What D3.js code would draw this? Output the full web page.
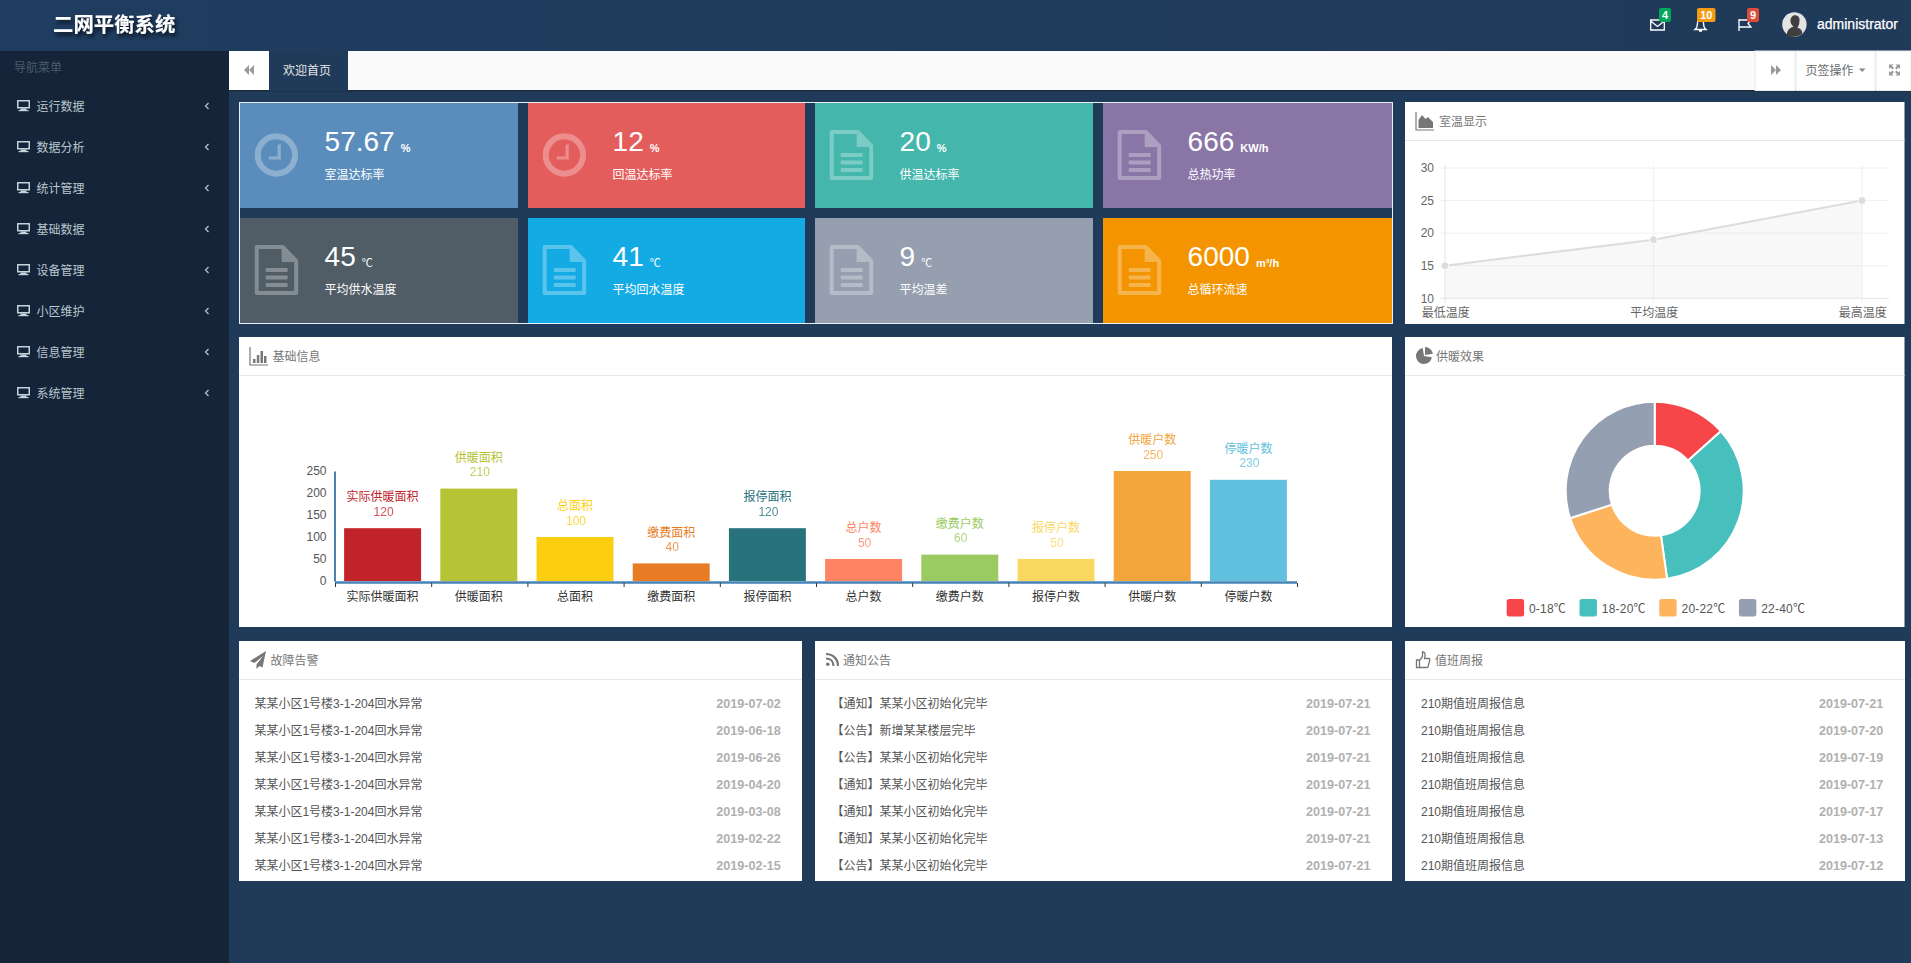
<!DOCTYPE html>
<html>
<head>
<meta charset="utf-8">
<title>二网平衡系统</title>
<script src="https://cdn.jsdelivr.net/npm/d3@7"></script>
<style>
html, body { margin: 0; padding: 0; background: #203a59; overflow: hidden; }
svg { display: block; }
text { font-family: "Liberation Sans", "Noto Sans CJK SC", sans-serif; font-size: 12px; }
</style>
</head>
<body>
<svg id="page" width="1911" height="963"></svg>
<script>
// data
var menuItems = ["运行数据", "数据分析", "统计管理", "基础数据", "设备管理", "小区维护", "信息管理", "系统管理"];

var tileValues = ["57.67", "12", "20", "666", "45", "41", "9", "6000"];
var tileUnits = ["%", "%", "%", "KW/h", "℃", "℃", "℃", "m³/h"];
var tileLabels = ["室温达标率", "回温达标率", "供温达标率", "总热功率", "平均供水温度", "平均回水温度", "平均温差", "总循环流速"];
var tileIcons = ["clock", "clock", "file", "file", "file", "file", "file", "file"];
var tileColors = ["#5a8dbc", "#e45d5d", "#44b6ac", "#8a75a7", "#505c66", "#14abe5", "#959fb0", "#f39400"];

var lineLabels = ["最低温度", "平均温度", "最高温度"];
var lineValues = [15, 19, 25];
var lineTicks = [10, 15, 20, 25, 30];

var barNames = ["实际供暖面积", "供暖面积", "总面积", "缴费面积", "报停面积", "总户数", "缴费户数", "报停户数", "供暖户数", "停暖户数"];
var barValues = [120, 210, 100, 40, 120, 50, 60, 50, 250, 230];
var barColors = ["#c1232b", "#b5c334", "#fcce10", "#e87c25", "#27727b", "#fe8463", "#9bca63", "#fad860", "#f3a43b", "#60c0dd"];

var pieLabels = ["0-18℃", "18-20℃", "20-22℃", "22-40℃"];
var pieValues = [12, 31, 20, 27];
var pieColors = ["#f7464a", "#46bfbd", "#fdb45c", "#949fb1"];

var faultTexts = d3.range(7).map(() => "某某小区1号楼3-1-204回水异常");
var faultDates = ["2019-07-02", "2019-06-18", "2019-06-26", "2019-04-20", "2019-03-08", "2019-02-22", "2019-02-15"];
var noticeTexts = ["【通知】某某小区初始化完毕", "【公告】新增某某楼层完毕", "【公告】某某小区初始化完毕", "【通知】某某小区初始化完毕", "【通知】某某小区初始化完毕", "【通知】某某小区初始化完毕", "【公告】某某小区初始化完毕"];
var noticeDates = ["2019-07-21", "2019-07-21", "2019-07-21", "2019-07-21", "2019-07-21", "2019-07-21", "2019-07-21"];
var dutyTexts = d3.range(7).map(() => "210期值班周报信息");
var dutyDates = ["2019-07-21", "2019-07-20", "2019-07-19", "2019-07-17", "2019-07-17", "2019-07-13", "2019-07-12"];

var svg = d3.select("#page");

function rect(p, x, y, w, h, fill) {
    return p.append("rect").attr("x", x).attr("y", y).attr("width", w).attr("height", h).attr("fill", fill);
}
function label(p, x, y, str, color, anchor) {
    return p.append("text").attr("x", x).attr("y", y).attr("dy", "0.42em")
        .attr("fill", color).attr("text-anchor", anchor || "start").text(str);
}
function shape(p, x, y, d, fill) {
    return p.append("path").attr("transform", `translate(${x},${y})`).attr("d", d).attr("fill", fill || "none");
}

// header, sidebar

var defs = svg.append("defs");
var shadow = defs.append("filter").attr("id", "logoShadow").attr("x", "-20%").attr("y", "-40%").attr("width", "140%").attr("height", "200%");
shadow.append("feDropShadow").attr("dx", 2).attr("dy", 3).attr("stdDeviation", 2).attr("flood-color", "#000").attr("flood-opacity", 0.75);

var headGrad = defs.append("linearGradient").attr("id", "headGrad");
headGrad.append("stop").attr("offset", "0").attr("stop-color", "#1f3d60");
headGrad.append("stop").attr("offset", "1").attr("stop-color", "#203a59");

rect(svg, 0, 0, 1911, 963, "#203a59");
rect(svg, 0, 0, 1911, 51, "url(#headGrad)");
rect(svg, 0, 51, 229, 912, "#152438");

label(svg, 53, 23.5, "二网平衡系统", "#fff")
    .style("font-size", "20.4px").style("font-weight", 700)
    .attr("filter", "url(#logoShadow)");

label(svg, 14, 67, "导航菜单", "#4b5c6c");

var menuY = d3.scalePoint().domain(menuItems).range([106, 393]);
menuItems.forEach(function (name) {
    var g = svg.append("g").attr("transform", `translate(0,${menuY(name)})`);
    shape(g, 17, -6, "M0 0H13V8.5H0Z M1.5 1.5V7H11.5V1.5Z", "#c4d3dc").attr("fill-rule", "evenodd");
    rect(g, 20.5, 2.5, 6, 1.6, "#c4d3dc");
    rect(g, 18.5, 4, 10, 1.2, "#c4d3dc");
    label(g, 36.5, 0, name, "#b8c7ce");
    g.append("path").attr("d", "M208.5 -3L205.5 0L208.5 3").attr("fill", "none")
        .attr("stroke", "#b8c7ce").attr("stroke-width", 1.2);
});

// tab bar

rect(svg, 229, 51, 1682, 39, "#fafafa");
rect(svg, 229, 90, 1682, 1.5, "#1c2a3a");
rect(svg, 229, 51, 39.5, 39, "#fff");
rect(svg, 269, 51, 79, 40, "#203a59");
label(svg, 283, 69.5, "欢迎首页", "#e6e6e6");
shape(svg, 244, 65, "M0 5L5 0V10Z M5 5L10 0V10Z", "#999");

[[1755, 40], [1796, 79], [1876, 35]].forEach(function (b) {
    rect(svg, b[0], 51, b[1], 39.5, "#fff").attr("stroke", "#e7eaec").attr("stroke-width", 1);
});
shape(svg, 1771, 65, "M0 0L5 5L0 10Z M5 0L10 5L5 10Z", "#999");
label(svg, 1805.5, 69.5, "页签操作", "#676a6c");
shape(svg, 1859, 68.5, "M0 0H6.5L3.25 3.5Z", "#888");
shape(svg, 1889, 64.5, "M0 0H4.5L3 1.5L5 3.5L3.5 5L1.5 3L0 4.5Z M11 0V4.5L9.5 3L7.5 5L6 3.5L8 1.5L6.5 0Z M0 11V6.5L1.5 8L3.5 6L5 7.5L3 9.5L4.5 11Z M11 11H6.5L8 9.5L6 7.5L7.5 6L9.5 8L11 6.5Z", "#999");

// top right icons

svg.append("path").attr("d", "M1650.7 20H1664.3V30H1650.7Z M1650.7 21L1657.5 26.5L1664.3 21")
    .attr("fill", "none").attr("stroke", "#fff").attr("stroke-width", 1.3);
svg.append("path").attr("d", "M1695 29.5C1697 28 1697.5 26 1697.5 23C1697.5 20.5 1699 19.5 1700.5 19.5C1702 19.5 1703.5 20.5 1703.5 23C1703.5 26 1704 28 1706 29.5Z M1699 31H1702")
    .attr("fill", "none").attr("stroke", "#fff").attr("stroke-width", 1.3);
svg.append("path").attr("d", "M1739 31V19 M1739 20H1751L1748 23.5L1751 27H1739")
    .attr("fill", "none").attr("stroke", "#fff").attr("stroke-width", 1.3);

[[1659, 12, "4", "#00a65a"], [1697, 18.5, "10", "#f39c12"], [1747, 12, "9", "#dd4b39"]].forEach(function (b) {
    rect(svg, b[0], 8, b[1], 14, b[3]).attr("rx", 2);
    label(svg, b[0] + b[1] / 2, 14.5, b[2], "#fff", "middle").style("font-size", "11px").style("font-weight", 700);
});

svg.append("circle").attr("cx", 1794.4).attr("cy", 24.5).attr("r", 12.2).attr("fill", "#e4e4e4");
shape(svg, 1794.4, 24.5, "M-8 11C-7 4 -3 3 -1 2C-5 -1 -5 -7 -1 -9C3 -10 6 -7 5 -3C5 0 4 2 3 3C6 4 8 6 8 9C4 13 -4 13 -8 11Z", "#3f3f3f");
label(svg, 1817, 23, "administrator", "#fff").style("font-size", "14px")
    .attr("stroke", "#fff").attr("stroke-width", 0.25);

// tiles

rect(svg, 239.5, 102.5, 1153, 221, "none").attr("stroke", "#e8eef3").attr("stroke-width", 1);

var tileX = [240, 528, 815, 1103];
var tileW = [278, 277, 278, 289];
var tileY = [103, 218];

function clockIcon(g) {
    g.append("circle").attr("cx", 21.7).attr("cy", 25).attr("r", 18.7).attr("fill", "none")
        .attr("stroke", "#fff").attr("stroke-width", 6);
    g.append("path").attr("d", "M24.5 14.5V28H14").attr("fill", "none").attr("stroke", "#fff").attr("stroke-width", 3.2);
}
function fileIcon(g) {
    g.append("path").attr("d", "M2 2H28L41.5 16V48H2Z").attr("fill", "none").attr("stroke", "#fff")
        .attr("stroke-width", 4).attr("stroke-linejoin", "round");
    g.append("path").attr("d", "M27 2L42 17H27Z").attr("fill", "#fff");
    [23, 30.5, 38].forEach(function (y) {
        rect(g, 11, y, 22, 4, "#fff").attr("rx", 1);
    });
}

tileValues.forEach(function (value, i) {
    var row = i < 4 ? 0 : 1;
    var g = svg.append("g").attr("transform", `translate(${tileX[i % 4]},${tileY[row]})`);
    rect(g, 0, 0, tileW[i % 4], 105, tileColors[i]);

    var icon = g.append("g").attr("transform", "translate(14.7,27)").attr("opacity", 0.3);
    if (tileIcons[i] === "clock") clockIcon(icon); else fileIcon(icon);

    var num = label(g, 84.6, 36.5, value, "#fff").style("font-size", "28px");
    var numW = num.node().getComputedTextLength();
    var bold = row === 0 || i === 7;
    label(g, 84.6 + numW + 6, 44.5, tileUnits[i], "#fff").style("font-size", "11px")
        .style("font-weight", bold ? 700 : 400);
    label(g, 84.6, 71, tileLabels[i], "#fff");
});

// panels

function panel(x, y, w, h, title, titleX, iconFn) {
    var g = svg.append("g").attr("transform", `translate(${x},${y})`);
    rect(g, 0, 0, w, h, "#fff");
    rect(g, 0, 38, w, 1, "#e7eaec");
    label(g, titleX, 19, title, "#777");
    iconFn(g.append("g").attr("transform", "translate(0,19)"));
    return g;
}

var rowLines = "M0 -9V9H18";

panel(1405, 102, 499.5, 222, "室温显示", 34, function (g) {
    g.attr("transform", "translate(11,19)");
    g.append("path").attr("d", rowLines).attr("fill", "none").attr("stroke", "#777").attr("stroke-width", 1.2);
    g.append("path").attr("d", "M2.5 7V-1L6 -6L9.5 -2L12 -4L17 1V7Z").attr("fill", "#777");
});
panel(239, 337, 1153, 290, "基础信息", 33.5, function (g) {
    g.attr("transform", "translate(11,19)");
    g.append("path").attr("d", rowLines).attr("fill", "none").attr("stroke", "#777").attr("stroke-width", 1.2);
    [[3, 3], [6.8, -1], [10.5, -5], [14, 0]].forEach(function (b) {
        rect(g, b[0], b[1], 2.5, 7 - b[1], "#777");
    });
});
panel(1405, 337, 499.5, 290, "供暖效果", 31, function (g) {
    g.attr("transform", "translate(19,19)");
    g.append("path").attr("d", d3.arc()({ innerRadius: 0, outerRadius: 8, startAngle: Math.PI * 0.55, endAngle: Math.PI * 1.95 })).attr("fill", "#777");
    g.append("path").attr("d", d3.arc()({ innerRadius: 0, outerRadius: 8, startAngle: 0, endAngle: Math.PI * 0.45 })).attr("fill", "#777").attr("transform", "translate(1,-1)");
});
var faultPanel = panel(239, 641, 563, 240, "故障告警", 31.5, function (g) {
    g.attr("transform", "translate(11,19)");
    g.append("path").attr("d", "M16 -9L0 1L4.5 3L13 -4L6.5 4.5V9L9.5 6L12.5 7.5Z").attr("fill", "#777");
});
var noticePanel = panel(815, 641, 577, 240, "通知公告", 28, function (g) {
    g.attr("transform", "translate(11,19)");
    g.append("path").attr("d", "M0 -6C7 -6 12 -1 12 6M0 -1.5C4.5 -1.5 7.5 1.5 7.5 6").attr("fill", "none").attr("stroke", "#777").attr("stroke-width", 2.2);
    g.append("circle").attr("cx", 1.8).attr("cy", 4.2).attr("r", 1.8).attr("fill", "#777");
});
var dutyPanel = panel(1405, 641, 500, 240, "值班周报", 30, function (g) {
    g.attr("transform", "translate(11,19)");
    g.append("path").attr("d", "M0.5 0H3.5V7.5H0.5Z M3.5 0.5L6.5 -3.5V-8C8.5 -8 9.5 -6.5 9 -4L8.5 -1.5H13C14 -1.5 14 0 13.5 1L12 7C11.5 7.5 11 7.5 10.5 7.5H3.5")
        .attr("fill", "none").attr("stroke", "#777").attr("stroke-width", 1.3);
});

// line chart

var lineG = svg.append("g");
var lineX = d3.scalePoint().domain(lineLabels).range([1445, 1862]);
var lineY = d3.scaleLinear().domain([10, 30]).range([298.3, 168]);

lineTicks.forEach(function (t) {
    lineG.append("line").attr("x1", 1440).attr("x2", 1889).attr("y1", lineY(t)).attr("y2", lineY(t))
        .attr("stroke", t === 10 ? "#e4e4e4" : "#f0f0f0");
    label(lineG, 1434, lineY(t) - 0.8, t, "#666", "end");
});
lineLabels.forEach(function (name) {
    lineG.append("line").attr("x1", lineX(name)).attr("x2", lineX(name)).attr("y1", 165).attr("y2", 303)
        .attr("stroke", name === lineLabels[0] ? "#e4e4e4" : "#f0f0f0");
    label(lineG, lineX(name) + 0.8, 312.2, name, "#666", "middle");
});

var linePts = lineValues.map((v, i) => [lineX(lineLabels[i]), lineY(v)]);
lineG.append("path")
    .attr("d", d3.area().x(d => d[0]).y0(lineY(10)).y1(d => d[1])(linePts))
    .attr("fill", "rgba(220,220,220,0.2)");
lineG.append("path")
    .attr("d", d3.line().x(d => d[0]).y(d => d[1])(linePts))
    .attr("fill", "none").attr("stroke", "#dcdcdc").attr("stroke-width", 2);
lineG.selectAll("circle").data(linePts).enter().append("circle")
    .attr("cx", d => d[0]).attr("cy", d => d[1]).attr("r", 4)
    .attr("fill", "#dcdcdc").attr("stroke", "#fff").attr("stroke-width", 1);

// bar chart

var barG = svg.append("g");
var barX = d3.scaleBand().domain(barNames).range([334.5, 1296.5]).paddingInner(0.2).paddingOuter(0.1);
var barY = d3.scaleLinear().domain([0, 250]).range([581, 471]);

barG.selectAll("rect").data(barValues).enter().append("rect")
    .attr("x", (d, i) => barX(barNames[i]))
    .attr("y", d => barY(d))
    .attr("width", barX.bandwidth())
    .attr("height", d => barY(0) - barY(d))
    .attr("fill", (d, i) => barColors[i]);

barValues.forEach(function (v, i) {
    var cx = barX(barNames[i]) + barX.bandwidth() / 2;
    label(barG, cx, barY(v) - 31.8, barNames[i], barColors[i], "middle");
    label(barG, cx + 1, barY(v) - 17.5, v, barColors[i], "middle").style("opacity", 0.8);
});

var axisY = barG.append("g").attr("transform", "translate(334.5,0)")
    .call(d3.axisLeft(barY).tickValues([0, 50, 100, 150, 200, 250]).tickSize(0).tickPadding(8));
axisY.select(".domain").attr("stroke", "#4682b4").attr("stroke-width", 2);
axisY.selectAll("text").attr("fill", "#555").style("font-size", "12px").style("font-family", null);

var axisX = barG.append("g").attr("transform", "translate(0,582)")
    .call(d3.axisBottom(barX).tickSize(0).tickPadding(10));
axisX.select(".domain").attr("stroke", "#4682b4").attr("stroke-width", 2.4);
axisX.selectAll("text").attr("fill", "#333").style("font-size", "12px").style("font-family", null);

// ticks on the band edges
d3.range(barNames.length + 1).forEach(function (i) {
    var x = barX.step() * i + 334.5 + 1;
    barG.append("line").attr("x1", x).attr("x2", x).attr("y1", 583).attr("y2", 587).attr("stroke", "#333");
});

// doughnut

var pieG = svg.append("g").attr("transform", "translate(1654.7,490.7)");
var pieArcs = d3.pie().sort(null)(pieValues);
pieG.selectAll("path").data(pieArcs).enter().append("path")
    .attr("d", d3.arc().innerRadius(45).outerRadius(89))
    .attr("fill", (d, i) => pieColors[i])
    .attr("stroke", "#fff").attr("stroke-width", 2);

var legendX = 1506.7;
pieLabels.forEach(function (name, i) {
    rect(svg, legendX, 599, 17.4, 17.4, pieColors[i]).attr("rx", 2.5);
    var t = label(svg, legendX + 22.3, 607.5, name, "#555").style("letter-spacing", "0.2px");
    legendX += 22.3 + t.node().getComputedTextLength() + 13.5;
});

// lists

function fillList(g, texts, dates, textX, dateX) {
    var listY = d3.scalePoint().domain(d3.range(7)).range([62, 224]);
    texts.forEach(function (str, i) {
        label(g, textX, listY(i), str, "#555");
        label(g, dateX, listY(i), dates[i], "#b0b0b0", "end").style("font-size", "12.6px").style("font-weight", 700);
    });
}
fillList(faultPanel, faultTexts, faultDates, 15.4, 541.7);
fillList(noticePanel, noticeTexts, noticeDates, 16.5, 555.5);
fillList(dutyPanel, dutyTexts, dutyDates, 16, 478.3);
</script>
</body>
</html>
